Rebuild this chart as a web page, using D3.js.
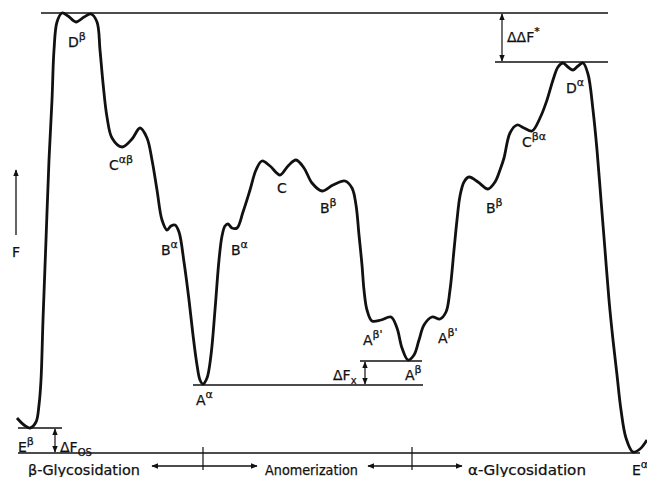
<!DOCTYPE html>
<html><head><meta charset="utf-8">
<script src="https://cdn.jsdelivr.net/npm/d3@7"></script>
<style>
html,body{margin:0;padding:0;background:#fff;}
svg{display:block;}
text{font-family:"DejaVu Sans",sans-serif;fill:#111;stroke:#111;stroke-width:0.25;}
</style></head><body>
<svg id="c" width="647" height="477"></svg>
<script>
// Reaction coordinate (arbitrary units) and free energy F (arbitrary units)
const coordX = [0,0.7,1.3,1.9,2.2,2.4,2.6,2.9,3.2,3.5,3.7,4.0,4.5,5.1,5.9,6.7,7.4,8.0,8.3,8.6,9.0,9.5,10.5,11.5,12.3,13.0,13.5,14.0,14.5,15.0,15.4,15.8,16.2,16.7,17.2,17.6,18.0,18.3,18.6,19.0,19.4,19.8,20.2,20.5,20.8,21.1,21.5,22.0,22.6,23.3,23.9,24.5,25.3,26.3,27.1,27.9,28.7,29.5,30.5,31.6,32.8,33.5,33.9,34.2,34.5,34.7,35.0,35.5,36.4,37.4,38.0,38.5,39.1,39.7,40.2,40.7,41.5,42.3,42.9,43.3,43.7,44.0,44.3,44.7,45.2,46.1,47.1,47.8,48.3,48.7,49.3,50.0,50.7,51.5,52.3,53.0,53.6,54.1,54.6,55.1,55.6,56.1,56.6,57.1,57.6,58.0,58.4,58.8,59.2,59.6,60.0,60.4,60.9,61.6,62.3,63.0];
const freeF  = [3.5,2.8,2.5,3.1,4.8,7.3,13.3,21.3,29.3,35.3,40.3,43.1,44.0,43.7,43.1,43.6,43.9,43.1,40.3,37.0,33.6,31.5,30.6,31.4,32.5,31.5,29.3,26.3,23.3,22.3,22.7,22.8,22.1,19.1,15.3,11.8,8.8,7.3,6.9,7.5,9.8,14.3,19.3,21.7,22.7,22.9,22.5,22.5,24.1,26.3,28.3,29.2,28.7,27.8,28.7,29.3,28.5,27.0,26.2,26.8,27.2,26.5,24.8,21.8,18.8,16.3,14.3,13.2,13.3,13.6,12.5,10.5,9.3,9.8,11.3,12.8,13.6,13.4,14.1,16.3,20.3,23.3,25.7,27.1,27.6,27.1,26.4,27.1,28.3,29.5,32.0,32.8,32.5,32.2,33.5,35.3,37.3,38.6,39.0,38.6,38.3,38.7,39.0,37.9,34.3,30.3,25.3,20.3,15.3,11.3,7.8,4.3,1.5,0.1,0.4,1.3];

// Reference levels: [x1, x2, F]
const levelLines = [[2.4,59.1,44.0],[47.8,59.1,39.1],[17.6,40.6,6.8],[34.3,40.5,9.2],[0.1,4.5,2.5],[0.1,62.3,0.0]];
// Double arrows: [x, F1, F2]
const diffArrows = [[48.5,44.0,39.1],[34.8,9.2,6.8],[3.8,2.5,0.0]];
// State labels: [main, sup, sub, x, F]
const stateLabels = [
 ["D","β","",5.1,40.6],["C","αβ","",9.2,28.3],["B","α","",14.4,19.8],["A","α","",17.9,4.8],
 ["B","α","",21.4,19.8],["C","","",26.0,26.0],["B","β","",30.3,24.0],["A","β'","",34.6,10.8],
 ["A","β","",38.8,7.3],["A","β'","",42.1,11.0],["B","β","",46.9,24.0],["C","βα","",50.5,30.6],
 ["D","α","",54.9,36.0],["E","β","",0.1,0.1],["E","α","",61.5,-2.2],
 ["ΔΔF","*","",49.0,41.1],["ΔF","","x",31.6,7.3],["ΔF","","OS",4.3,0.1]
];
// Process regions
const regionNames = ["β-Glycosidation","Anomerization","α-Glycosidation"];
const regionX = [1.1,24.8,45.1];
const regionTicks = [18.6,39.5];
const regionArrows = [[18.6,13.5],[18.6,24.0],[39.5,35.1],[39.5,44.5]];

const svg = d3.select("#c");
const x = d3.scaleLinear().domain([0,63]).range([17,647]);
const y = d3.scaleLinear().domain([0,44]).range([453,13]);
const regionTextLen = [112, 93, 118];

const defs = svg.append("defs");
defs.append("marker").attr("id","ah").attr("viewBox","0 0 10 10").attr("refX",9).attr("refY",5)
  .attr("markerWidth",7).attr("markerHeight",7).attr("markerUnits","userSpaceOnUse").attr("orient","auto-start-reverse")
  .append("path").attr("d","M0,1L10,5L0,9Z").attr("fill","#111");

// curve
const pts = coordX.map((d,i)=>[d,freeF[i]]);
svg.append("path").datum(pts)
  .attr("d", d3.line().x(d=>x(d[0])).y(d=>y(d[1])).curve(d3.curveCatmullRom.alpha(0.5)))
  .attr("fill","none").attr("stroke","#111").attr("stroke-width",2.8).attr("stroke-linejoin","round");

// level lines
svg.selectAll(".lvl").data(levelLines).join("line").attr("class","lvl")
  .attr("x1",d=>x(d[0])).attr("x2",d=>x(d[1])).attr("y1",d=>y(d[2])).attr("y2",d=>y(d[2]))
  .attr("stroke","#111").attr("stroke-width",1.6);

// double arrows
svg.selectAll(".da").data(diffArrows).join("line").attr("class","da")
  .attr("x1",d=>x(d[0])).attr("x2",d=>x(d[0])).attr("y1",d=>y(d[1])+1).attr("y2",d=>y(d[2])-1)
  .attr("stroke","#111").attr("stroke-width",1.2)
  .attr("marker-start","url(#ah)").attr("marker-end","url(#ah)");

// F axis arrow
svg.append("line").attr("x1",x(-0.1)).attr("x2",x(-0.1)).attr("y1",y(21.8)).attr("y2",y(28.3))
  .attr("stroke","#111").attr("stroke-width",1.3).attr("marker-end","url(#ah)");
svg.append("text").attr("x",x(-0.1)).attr("y",y(19.6)).attr("text-anchor","middle")
  .attr("font-size",14).text("F");

// labels
const lab = svg.selectAll(".lab").data(stateLabels).join("text").attr("class","lab")
  .attr("x",d=>x(d[3])).attr("y",d=>y(d[4])).attr("font-size",14);
lab.append("tspan").text(d=>d[0]);
lab.filter(d=>d[1]).append("tspan").attr("dy",-7).attr("font-size",11).text(d=>d[1]);
lab.filter(d=>d[2]).append("tspan").attr("dy",4).attr("font-size",10).text(d=>d[2]);

// region ticks
svg.selectAll(".rt").data(regionTicks).join("line").attr("class","rt")
  .attr("x1",d=>x(d)).attr("x2",d=>x(d)).attr("y1",y(0.6)).attr("y2",y(-1.7))
  .attr("stroke","#111").attr("stroke-width",1.2);
svg.selectAll(".ra").data(regionArrows).join("line").attr("class","ra")
  .attr("x1",d=>x(d[0])).attr("x2",d=>x(d[1])).attr("y1",y(-1.3)).attr("y2",y(-1.3))
  .attr("stroke","#111").attr("stroke-width",1.3).attr("marker-end","url(#ah)");
svg.selectAll(".rn").data(regionNames).join("text").attr("class","rn")
  .attr("x",(d,i)=>x(regionX[i])).attr("y",y(-2.2)).attr("font-size",14)
  .attr("textLength",(d,i)=>regionTextLen[i]).attr("lengthAdjust","spacingAndGlyphs").text(d=>d);
</script></body></html>
